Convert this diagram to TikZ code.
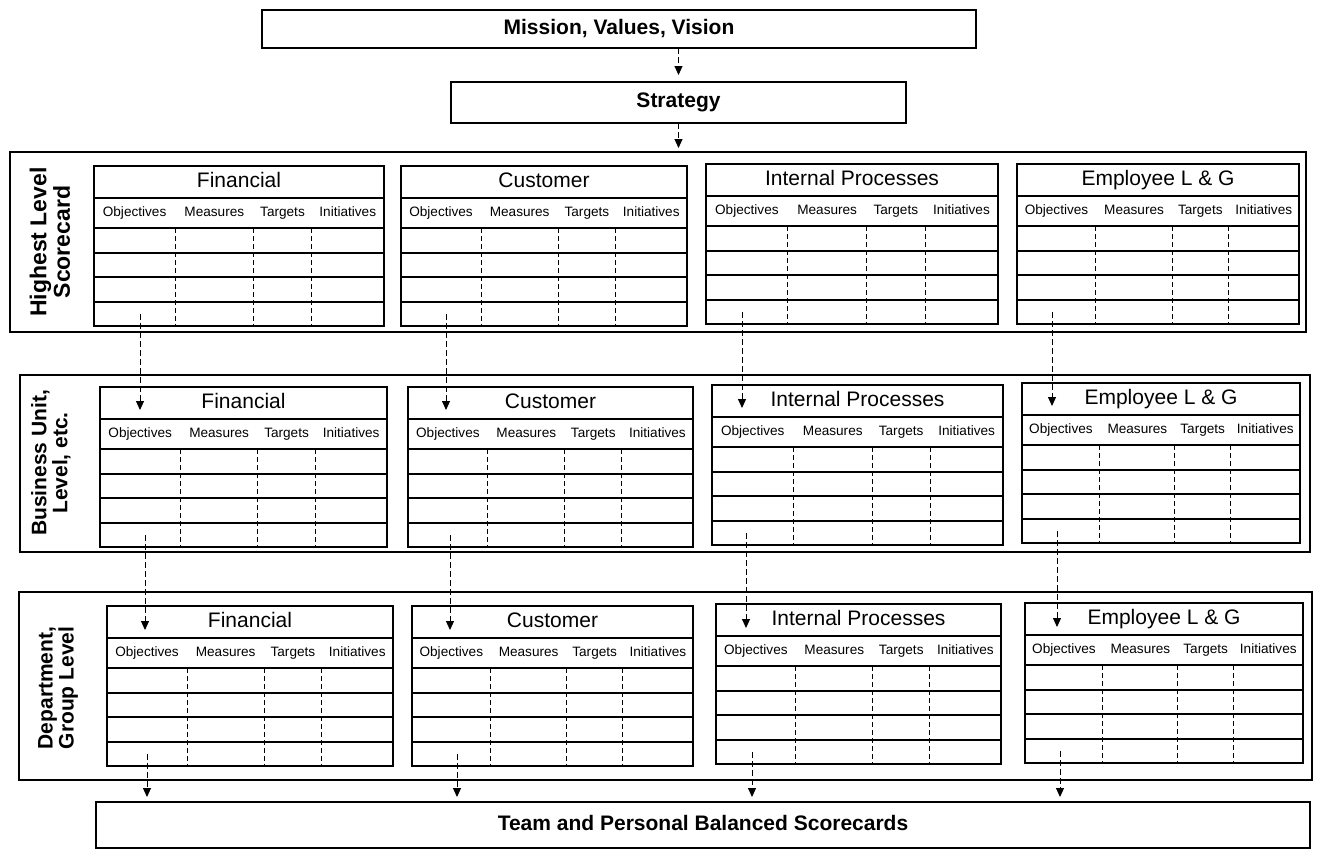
\documentclass[tikz,border=0pt]{standalone}
\usepackage{fontspec}
\setmainfont{Liberation Sans}
\usepackage{tikz}
\usetikzlibrary{positioning, calc, arrows.meta}

\newcommand{\pxu}{0.5pt}

\tikzset{
  box/.style={draw, line width=0.9pt, inner sep=0pt, outer sep=0pt, anchor=north west, text height=7.6pt, text depth=2.2pt, font=\bfseries\fontsize{10.5}{12}\selectfont},
  levelbox/.style={draw, line width=0.8pt, inner sep=0pt, outer sep=0pt, anchor=north west},
  levellabel/.style={rotate=90, align=center, font=\bfseries\fontsize{10.5}{10.5}\selectfont},
  cardtitle/.style={draw, line width=0.9pt, inner sep=0pt, outer sep=0pt, minimum height=16pt, text height=7.6pt, text depth=2.2pt, font=\fontsize{10.5}{12}\selectfont},
  cardhead/.style={draw, line width=0.9pt, inner sep=0pt, outer sep=0pt, minimum height=15pt},
  cardrow/.style={draw, line width=1pt, inner sep=0pt, outer sep=0pt, minimum height=12.25pt},
  headtext/.style={inner sep=0pt, text height=5pt, text depth=1.5pt, font=\fontsize{6.8}{7}\selectfont},
  divider/.style={line width=0.5pt, dash pattern=on 2.5pt off 1.5pt},
  flow/.style={line width=0.5pt, dash pattern=on 3pt off 1.5pt, -{Triangle[width=4pt,length=4.5pt]}}
}

% one perspective table: name, x, y, width, title
\newcommand{\scorecard}[5]{%
  \node[cardtitle, minimum width=#4*\pxu, anchor=north west] (#1) at (#2,#3) {#5};
  \node[cardhead, minimum width=#4*\pxu, below=0cm of #1] (#1-h) {};
  \foreach \i/\j in {1/h, 2/r1, 3/r2, 4/r3}
    \node[cardrow, minimum width=#4*\pxu, below=0cm of #1-\j] (#1-r\i) {};
  \foreach \lbl/\f in {Objectives/0.14, Measures/0.415, Targets/0.65, Initiatives/0.875}
    \node[headtext] at ($(#1-h.west)!\f!(#1-h.east)$) {\lbl};
  \foreach \f in {0.28, 0.55, 0.75}
    \draw[divider] ($(#1-h.south west)!\f!(#1-h.south east)$) -- ($(#1-r4.south west)!\f!(#1-r4.south east)$);
}

\begin{document}
\begin{tikzpicture}[x=\pxu, y=-\pxu]
  \useasboundingbox (0,0) rectangle (1320,853);

  % top of the cascade
  \node[box, minimum width=714*\pxu, minimum height=38*\pxu] (mission) at (262,10) {Mission, Values, Vision};
  \node[box, minimum width=455*\pxu, minimum height=41*\pxu] (strategy) at (451,82) {Strategy};

  % levels
  \node[levelbox, minimum width=1296*\pxu, minimum height=180*\pxu] (lvl1) at (10,152) {};
  \node[levelbox, minimum width=1290*\pxu, minimum height=177*\pxu] (lvl2) at (20,375) {};
  \node[levelbox, minimum width=1293*\pxu, minimum height=188*\pxu] (lvl3) at (19,592) {};

  \node[levellabel, font=\bfseries\fontsize{11.5}{10.5}\selectfont] (lbl1) at (50,242) {Highest Level\\Scorecard};
  \node[levellabel] (lbl2) at (51,463) {Business Unit,\\Level, etc.};
  \node[levellabel] (lbl3) at (58,688) {Department,\\Group Level};

  \scorecard{fin1}{94}{166}{290}{Financial}
  \scorecard{cus1}{401}{166}{286}{Customer}
  \scorecard{int1}{706}{164}{292}{Internal Processes}
  \scorecard{emp1}{1017}{164}{282}{Employee L \& G}

  \scorecard{fin2}{100}{387}{287}{Financial}
  \scorecard{cus2}{408}{387}{285}{Customer}
  \scorecard{int2}{712}{385}{291}{Internal Processes}
  \scorecard{emp2}{1022}{383}{278}{Employee L \& G}

  \scorecard{fin3}{107}{606}{286}{Financial}
  \scorecard{cus3}{412}{606}{281}{Customer}
  \scorecard{int3}{716}{604}{285}{Internal Processes}
  \scorecard{emp3}{1025}{603}{278}{Employee L \& G}

  \node[box, minimum width=1214*\pxu, minimum height=46*\pxu] (team) at (96,802) {Team and Personal Balanced Scorecards};

  % arrows
  \draw[flow, shorten >=3.5pt] (strategy.north |- mission.south) -- (strategy.north);
  \draw[flow, shorten >=2pt] (strategy.south) -- (strategy.south |- lvl1.north);

  \foreach \c/\dx in {fin/46, cus/45, int/36, emp/35} {
    \path ([xshift=\dx*\pxu]\c1-r4.west) coordinate (\c1-out);
    \draw[flow, shorten >=4.5pt] (\c1-out) -- (\c1-out |- \c2.south);
  }
  \foreach \c/\dx in {fin/45, cus/42, int/34, emp/35} {
    \path ([xshift=\dx*\pxu]\c2-r4.west) coordinate (\c2-out);
    \draw[flow, shorten >=4pt] (\c2-out) -- (\c2-out |- \c3.south);
  }
  \foreach \c/\dx in {fin/40, cus/45, int/36, emp/35} {
    \path ([xshift=\dx*\pxu]\c3-r4.west) coordinate (\c3-out);
    \draw[flow, shorten >=2.5pt] (\c3-out) -- (\c3-out |- team.north);
  }
\end{tikzpicture}
\end{document}
